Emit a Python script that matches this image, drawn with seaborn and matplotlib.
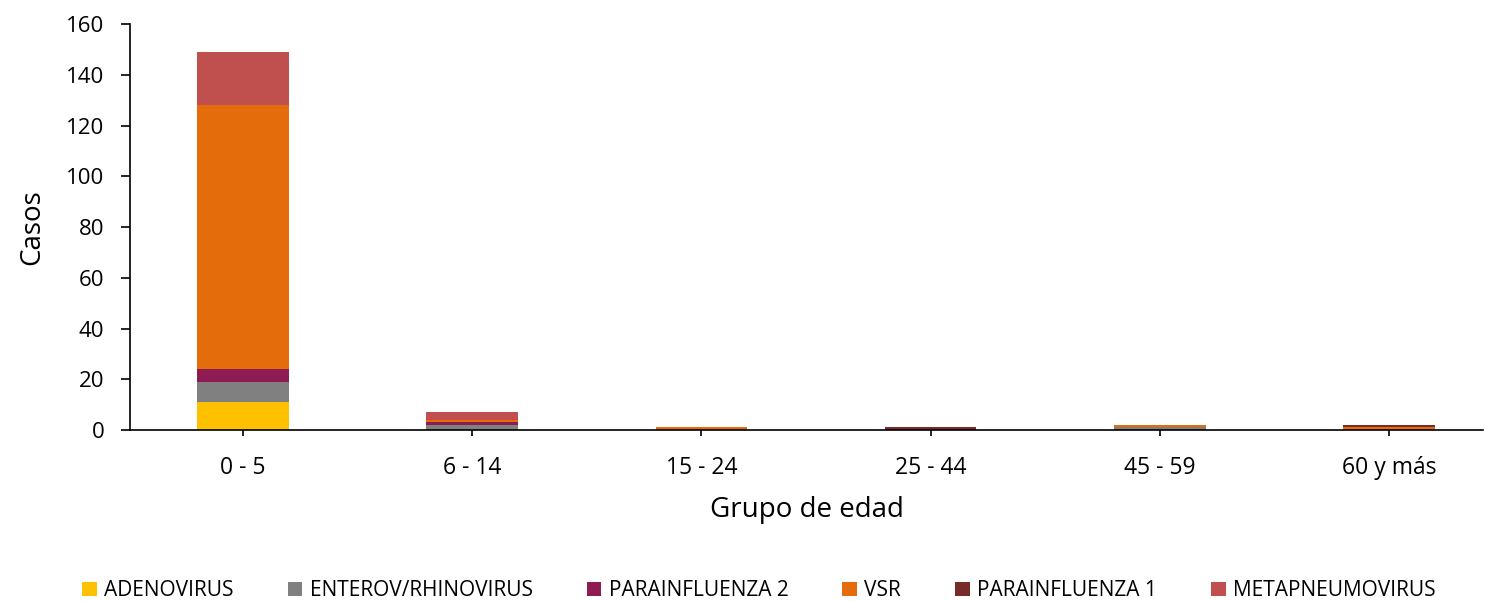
import numpy as np
import pandas as pd
import seaborn as sns
import matplotlib.pyplot as plt
from matplotlib.patches import Patch

# Data
grupos = ["0 - 5", "6 - 14", "15 - 24", "25 - 44", "45 - 59", "60 y más"]
virus = ["ADENOVIRUS", "ENTEROV/RHINOVIRUS", "PARAINFLUENZA 2", "VSR",
         "PARAINFLUENZA 1", "METAPNEUMOVIRUS"]
adenovirus = [11, 0, 0, 0, 0, 0]
enterov = [8, 2, 0, 0, 1, 0]
parainf2 = [5, 1, 0, 0, 0, 0]
vsr = [104, 1, 1, 0, 1, 1]
parainf1 = [0, 0, 0, 1, 0, 1]
metapneumo = [21, 3, 0, 0, 0, 0]
colores = ["#FFC000", "#808080", "#8E1B52", "#E46C0A", "#772C2A", "#C0504D"]

series = [adenovirus, enterov, parainf2, vsr, parainf1, metapneumo]
acum = np.cumsum(np.array(series), axis=0)

sns.set_style("white")
plt.rcParams['font.family'] = ['Open Sans', 'DejaVu Sans']
plt.rcParams['text.color'] = 'black'

fig, ax = plt.subplots(figsize=(14.88, 6.01), dpi=100)
fig.subplots_adjust(left=0.0874, right=0.9966, top=0.96, bottom=0.2845)

# stacked bars: draw cumulative totals from top layer down
for i in range(len(virus) - 1, -1, -1):
    df = pd.DataFrame({"grupo": grupos, "casos": acum[i]})
    sns.barplot(data=df, x="grupo", y="casos", color=colores[i], width=0.4,
                saturation=1, ax=ax, order=grupos, linewidth=0)

ax.set_ylim(0, 160)
ax.set_yticks(range(0, 161, 20))
ax.set_xlim(-0.493, 5.41)
ax.set_xlabel("Grupo de edad", fontsize=20, labelpad=12, color="black")
ax.set_ylabel("Casos", fontsize=20, labelpad=14, color="black")
ax.tick_params(axis="y", labelsize=16, direction="out", length=6.5,
               width=1.2, colors="black", left=True, pad=12)
ax.tick_params(axis="x", labelsize=16.5, direction="out", length=4.5,
               width=1.2, colors="black", bottom=True, pad=14)

for s in ["top", "right"]:
    ax.spines[s].set_visible(False)
for s in ["left", "bottom"]:
    ax.spines[s].set_color("black")
    ax.spines[s].set_linewidth(1.2)

handles = [Patch(facecolor=c, edgecolor="none") for c in colores]
fig.legend(handles, virus, loc="center", ncol=6, frameon=False,
           fontsize=15, bbox_to_anchor=(0.51, 0.017), handlelength=0.7,
           handleheight=0.7, handletextpad=0.35, columnspacing=2.6)

fig.savefig("out.png", dpi=100)
